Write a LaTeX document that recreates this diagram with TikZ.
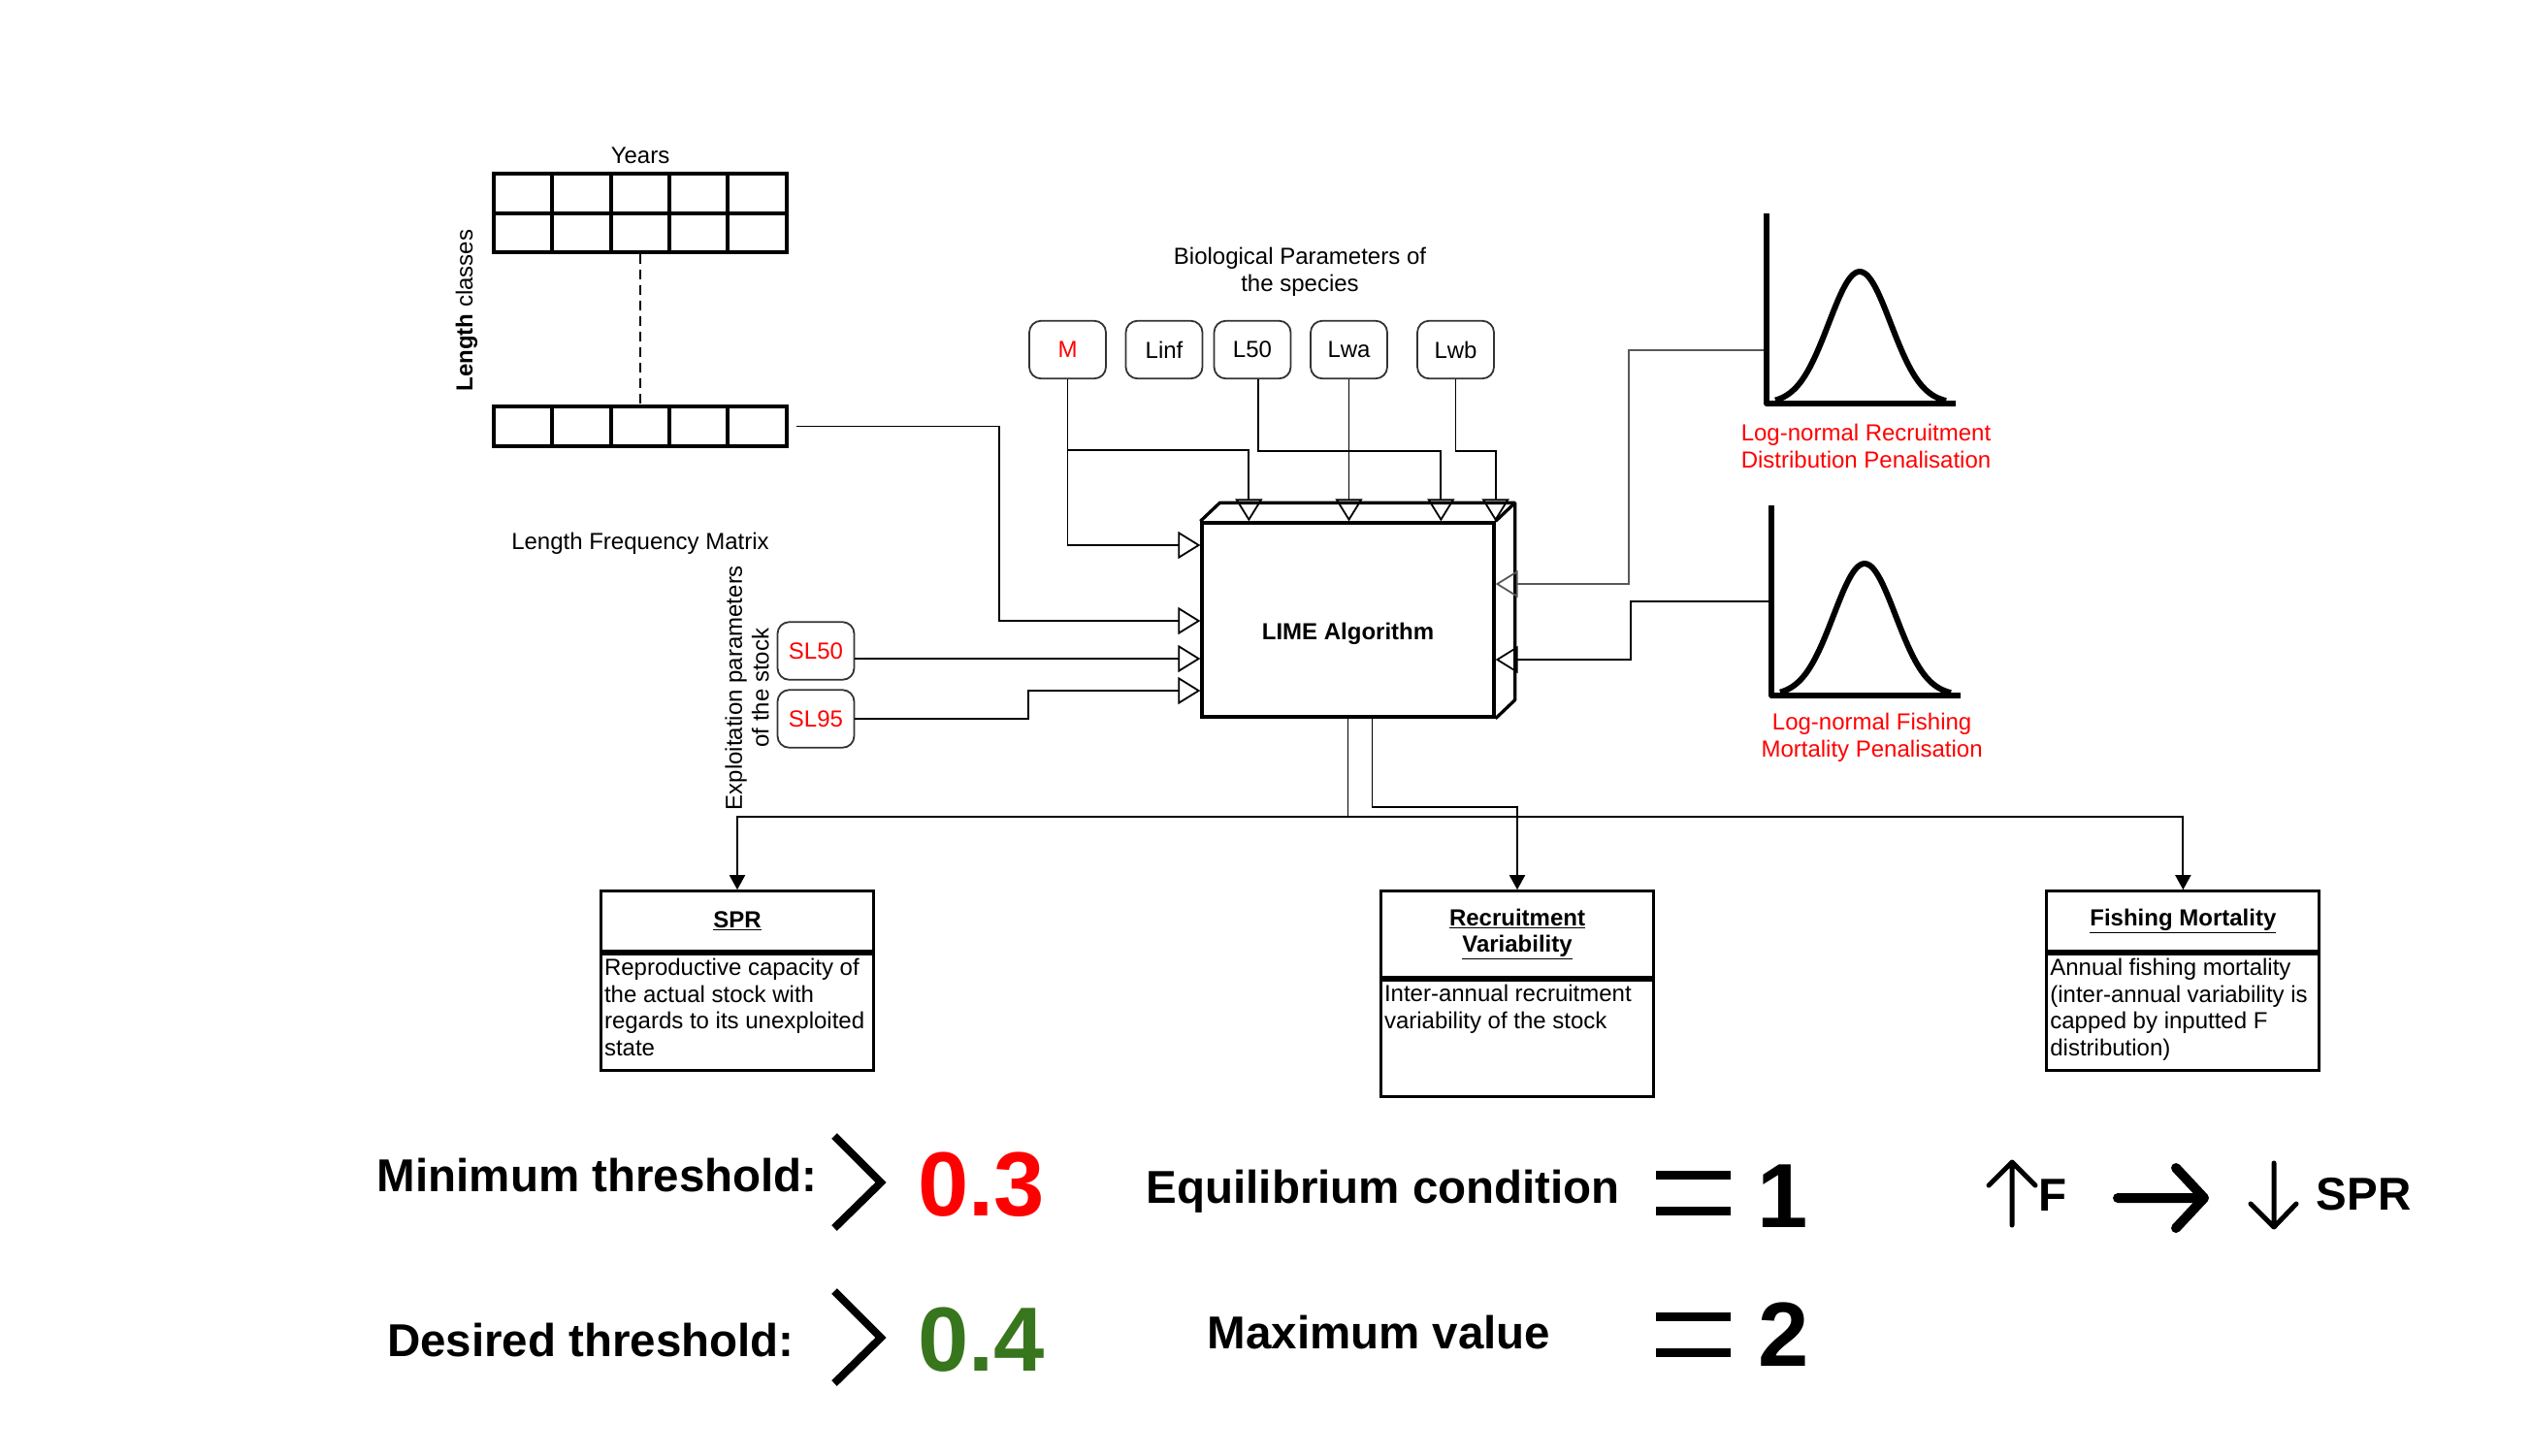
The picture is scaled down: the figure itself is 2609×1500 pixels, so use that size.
\documentclass[tikz,border=0pt]{standalone}
\usepackage{fontspec}
\setmainfont{Liberation Sans}
\usepackage{xcolor}
\usetikzlibrary{calc, positioning, arrows.meta}

\definecolor{parred}{RGB}{255,0,0}
\definecolor{sprgreen}{RGB}{56,118,29}
\definecolor{boxgray}{RGB}{51,51,51}

\tikzset{
    txt/.style={font=\fontsize{24}{27.6}\selectfont, inner sep=0pt},
    param/.style={txt, draw=boxgray, line width=1.8pt, rounded corners=12pt, minimum width=79pt, minimum height=59.5pt},
    cell/.style={draw, line width=4pt, minimum width=60.4pt, minimum height=40.5pt, inner sep=0pt},
    conn/.style={line width=1.8pt},
    inarrow/.style={conn, -{Triangle[open, length=23pt, width=28pt, line width=1.8pt]}},
    outarrow/.style={conn, -{Triangle[length=15pt, width=16pt]}},
    outhead/.style={txt, draw, line width=3pt, minimum width=281pt, font=\fontsize{24}{27.6}\selectfont\bfseries},
    outbody/.style={txt, draw, line width=3pt, minimum width=281pt, minimum height=120.5pt},
    bigtxt/.style={inner sep=0pt, font=\fontsize{47.5}{57}\selectfont\bfseries},
    bignum/.style={inner sep=0pt, font=\fontsize{94}{110}\selectfont\bfseries},
    distline/.style={line width=6pt, line join=round},
    chevron/.style={line width=8pt, line join=miter},
}

\begin{document}
\begin{tikzpicture}[x=1pt, y=-1pt]
    \useasboundingbox (0,0) rectangle (2609,1500);

    % length frequency matrix
    \foreach \r in {0,1}
    {
        \foreach \c in {0,...,4}
        {
            \node[cell] (cell\r\c) at ({538.9+60.4*\c}, {199.25+40.5*\r}) {};
        }
    }
    \foreach \c in {0,...,4}
    {
        \node[cell] (last\c) at ({538.9+60.4*\c}, 439.5) {};
    }
    \draw[conn, dash pattern=on 10pt off 6pt] (cell12.south) -- (last2.north);
    \node[txt] (years) at (660,160) {Years};
    \node[txt, rotate=90] (lclass) at (481,320) {\textbf{Length} classes};
    \node[txt] (lfm) at (660,560) {Length Frequency Matrix};

    % biological parameters
    \node[txt, align=center] (bio) at (1340,280) {Biological Parameters of\\the species};
    \foreach \n/\x/\t/\col in {m/1100.5/M/parred, linf/1200/Linf/black, l50/1291/L50/black, lwa/1390.5/Lwa/black, lwb/1500.5/Lwb/black}
    {
        \node[param, text=\col] (\n) at (\x,360.5) {\t};
    }

    % LIME box
    \node[draw, line width=3.3pt, minimum width=301pt, minimum height=200pt] (lime) at (1389.5,639) {};
    \draw[line width=3.3pt, line join=round] (lime.north west) -- ++(20,-19) -- ($(lime.north east)+(20,-19)$) -- ($(lime.south east)+(20,-19)$) -- (lime.south east);
    \draw[line width=3.3pt] (lime.north east) -- ++(20,-19);
    \node[txt, font=\fontsize{24}{27.6}\selectfont\bfseries] (limetxt) at ($(lime.center)+(0,14)$) {LIME Algorithm};

    % inputs from the top
    \draw[inarrow] (m.south) |- (lime.west |- 0,562);
    \draw[inarrow] (m.south |- 0,464) -| ($(lime.north west)+(50,0)$);
    \draw[inarrow] ($(l50.south)+(6,0)$) -- ++(0,74) -| ($(lime.north west)+(248,0)$);
    \draw[inarrow] (lwa.south) -- (lwa.south |- lime.north);
    \draw[inarrow] (lwb.south) -- ++(0,74) -| (lime.north east);

    % matrix
    \draw[inarrow] ($(last4.east)+(8,0)$) -| (1030,640) -- (lime.west |- 0,640);

    % exploitation parameters
    \node[txt, rotate=90, align=center] (expl) at (770,709) {Exploitation parameters\\of the stock};
    \node[param, text=parred] (sl50) at (841,671) {SL50};
    \node[param, text=parred] (sl95) at (841,741) {SL95};
    \draw[inarrow] ($(sl50.east)+(0,8)$) -- (lime.west |- 0,679);
    \draw[inarrow] (sl95.east) -| (1060,712) -- (lime.west |- 0,712);

    % penalisation distributions
    \foreach \ox/\oy in {0/0, 5/301}
    {
        \draw[distline] ({1821+\ox},{220+\oy}) |- ({2016+\ox},{416+\oy});
        \draw[distline] plot[domain={1830+\ox}:{2006+\ox}, samples=60, smooth] (\x, {416+\oy-136*exp(-((\x-1917-\ox)/32)^2/2)});
    }
    \node[txt, text=parred, align=center] (rdistlbl) at (1923.5,460) {Log-normal Recruitment\\Distribution Penalisation};
    \node[txt, text=parred, align=center] (fdistlbl) at (1929.6,760) {Log-normal Fishing\\Mortality Penalisation};
    \coordinate (rdist) at (1818,361);
    \coordinate (fdist) at (1823,620);
    \draw[inarrow, draw=black!65] (rdist) -| (1679,602) -- (lime.east |- 0,602);
    \draw[inarrow] (fdist) -| (1681,680) -- (lime.east |- 0,680);

    % outputs
    \node[outhead, minimum height=61.3pt] (spr) at (760,949.35) {\underline{SPR}};
    \node[outbody, below=0pt of spr] (sprbody) {\parbox[t][110pt][t]{274pt}{\raggedright Reproductive capacity of\\the actual stock with\\regards to its unexploited\\state}};
    \node[outhead, minimum height=88.3pt, align=center] (recr) at (1564,962.85) {\underline{Recruitment}\\\underline{Variability}};
    \node[outbody, below=0pt of recr] (recrbody) {\parbox[t][110pt][t]{274pt}{\raggedright Inter-annual recruitment\\variability of the stock}};
    \node[outhead, minimum height=61.3pt] (fish) at (2250.35,949.35) {\underline{Fishing Mortality}};
    \node[outbody, below=0pt of fish] (fishbody) {\parbox[t][110pt][t]{274pt}{\raggedright Annual fishing mortality\\(inter-annual variability is\\capped by inputted F\\distribution)}};

    \draw[outarrow] (lime.south) -- ++(0,101) -| (spr.north);
    \draw[outarrow] (lime.south) -- ++(0,101) -| (fish.north);
    \draw[outarrow] ($(lime.south)+(25,0)$) -- ++(0,91) -| (recr.north);

    % thresholds
    \node[bigtxt, anchor=base east] (minthr) at (843,1228) {Minimum threshold:};
    \draw[chevron] (860,1171) -- (908,1219) -- (860,1266);
    \node[bignum, text=parred, anchor=base west] (minval) at (946,1253) {0.3};
    \node[bigtxt, anchor=base east] (desthr) at (819,1398) {Desired threshold:};
    \draw[chevron] (860,1331) -- (908,1379) -- (860,1426);
    \node[bignum, text=sprgreen, anchor=base west] (desval) at (946,1413) {0.4};

    \node[bigtxt, anchor=base west] (eqcond) at (1181.5,1240) {Equilibrium condition};
    \node[bigtxt, anchor=base west] (maxv) at (1244.5,1390) {Maximum value};
    \foreach \y in {1211.3,1248.5,1357.2,1394.5}
    {
        \draw[line width=9.3pt] (1707,\y) -- (1784,\y);
    }
    \node[bignum, anchor=base] (eqnum) at (1838,1265) {1};
    \node[bignum, anchor=base] (maxnum) at (1839,1408) {2};

    % F and SPR
    \draw[line width=5pt, line cap=round, line join=round] (2074,1263) -- (2074,1199) (2050,1222) -- (2074,1198) -- (2098,1222);
    \node[bigtxt, anchor=base west] (fup) at (2101,1248) {F};
    \draw[line width=10pt, line cap=round, line join=round] (2183,1235) -- (2270,1235) (2243,1204) -- (2272,1235) -- (2243,1266);
    \draw[line width=5pt, line cap=round, line join=round] (2344,1199) -- (2344,1264) (2320,1241) -- (2344,1265) -- (2367,1241);
    \node[bigtxt, anchor=base west] (sprdown) at (2387.5,1247) {SPR};
\end{tikzpicture}
\end{document}
